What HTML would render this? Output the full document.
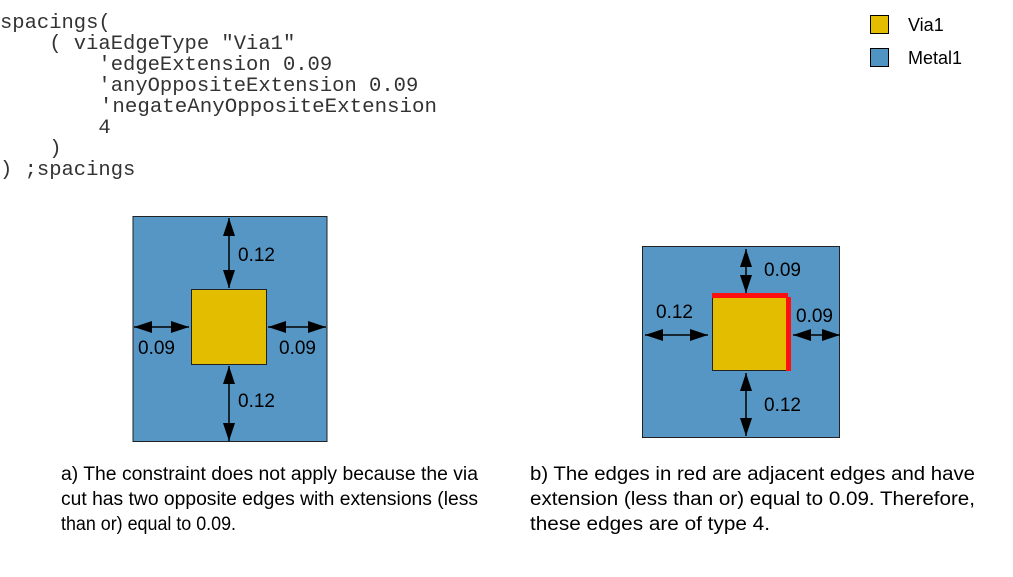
<!DOCTYPE html>
<html><head><meta charset="utf-8"><style>
html,body{margin:0;padding:0;background:#fff;}
body{width:1013px;height:577px;overflow:hidden;position:relative;}
.m{white-space:pre;}
</style></head><body>
<svg width="1013" height="577" xmlns="http://www.w3.org/2000/svg" style="position:absolute;left:0;top:0">
<defs>
<marker id="ah" viewBox="0 0 18 12" refX="18" refY="6" markerWidth="18" markerHeight="12" markerUnits="userSpaceOnUse" orient="auto-start-reverse">
<path d="M0,0 L18,6 L0,12 z" fill="#000"/></marker>
</defs>
<g font-family="Liberation Mono, monospace" font-size="20.5" fill="#333" class="m">
<text x="0" y="28" class="m">spacings(</text>
<text x="0" y="49" class="m">    ( viaEdgeType "Via1"</text>
<text x="0" y="70" class="m">        'edgeExtension 0.09</text>
<text x="0" y="91" class="m">        'anyOppositeExtension 0.09</text>
<text x="0" y="112" class="m" textLength="437" lengthAdjust="spacingAndGlyphs">        'negateAnyOppositeExtension</text>
<text x="0" y="133" class="m">        4</text>
<text x="0" y="154" class="m">    )</text>
<text x="0" y="175" class="m">) ;spacings</text>
</g>
<rect x="870.5" y="15.5" width="18" height="18" fill="#e3bd00" stroke="#000"/>
<rect x="870.5" y="48.5" width="18" height="18" fill="#4f94c2" stroke="#000"/>
<g font-family="Liberation Sans, sans-serif" font-size="18" fill="#000">
<text x="908" y="31">Via1</text>
<text x="908" y="64">Metal1</text>
</g>
<!-- a -->
<rect x="133" y="216.5" width="194" height="225" fill="#5596c4" stroke="#222"/>
<rect x="191.5" y="289.5" width="75" height="75" fill="#e3bd00" stroke="#222"/>
<g stroke="#000" stroke-width="1.5" fill="none">
<path d="M229,218 L229,288" marker-start="url(#ah)" marker-end="url(#ah)"/>
<path d="M229,366 L229,441" marker-start="url(#ah)" marker-end="url(#ah)"/>
<path d="M134,327 L189,327" marker-start="url(#ah)" marker-end="url(#ah)"/>
<path d="M268,327 L326,327" marker-start="url(#ah)" marker-end="url(#ah)"/>
</g>
<g font-family="Liberation Sans, sans-serif" font-size="19" fill="#000">
<text x="238" y="261">0.12</text>
<text x="138" y="354">0.09</text>
<text x="279" y="354">0.09</text>
<text x="238" y="407">0.12</text>
</g>
<!-- b -->
<rect x="642.5" y="246.5" width="197" height="191" fill="#5596c4" stroke="#222"/>
<rect x="712.5" y="296.5" width="75" height="74" fill="#e3bd00" stroke="#222"/>
<rect x="712" y="293" width="76" height="5" fill="#ff1010"/>
<rect x="786" y="297" width="5" height="74" fill="#ff1010"/>
<g stroke="#000" stroke-width="1.5" fill="none">
<path d="M746,249 L746,293" marker-start="url(#ah)" marker-end="url(#ah)"/>
<path d="M746,373 L746,436" marker-start="url(#ah)" marker-end="url(#ah)"/>
<path d="M645,335 L708,335" marker-start="url(#ah)" marker-end="url(#ah)"/>
<path d="M793,335 L840,335" marker-start="url(#ah)" marker-end="url(#ah)"/>
</g>
<g font-family="Liberation Sans, sans-serif" font-size="19" fill="#000">
<text x="764" y="276">0.09</text>
<text x="656" y="318">0.12</text>
<text x="796" y="322">0.09</text>
<text x="764" y="411">0.12</text>
</g>
<g font-family="Liberation Sans, sans-serif" font-size="19" fill="#000">
<text x="61" y="480" textLength="417" lengthAdjust="spacingAndGlyphs">a) The constraint does not apply because the via</text>
<text x="61" y="505" textLength="417" lengthAdjust="spacingAndGlyphs">cut has two opposite edges with extensions (less</text>
<text x="61" y="530" textLength="175" lengthAdjust="spacingAndGlyphs">than or) equal to 0.09.</text>
<text x="530" y="480" textLength="445" lengthAdjust="spacingAndGlyphs">b) The edges in red are adjacent edges and have</text>
<text x="530" y="505" textLength="445" lengthAdjust="spacingAndGlyphs">extension (less than or) equal to 0.09. Therefore,</text>
<text x="530" y="530" textLength="240" lengthAdjust="spacingAndGlyphs">these edges are of type 4.</text>
</g>
</svg>
</body></html>
